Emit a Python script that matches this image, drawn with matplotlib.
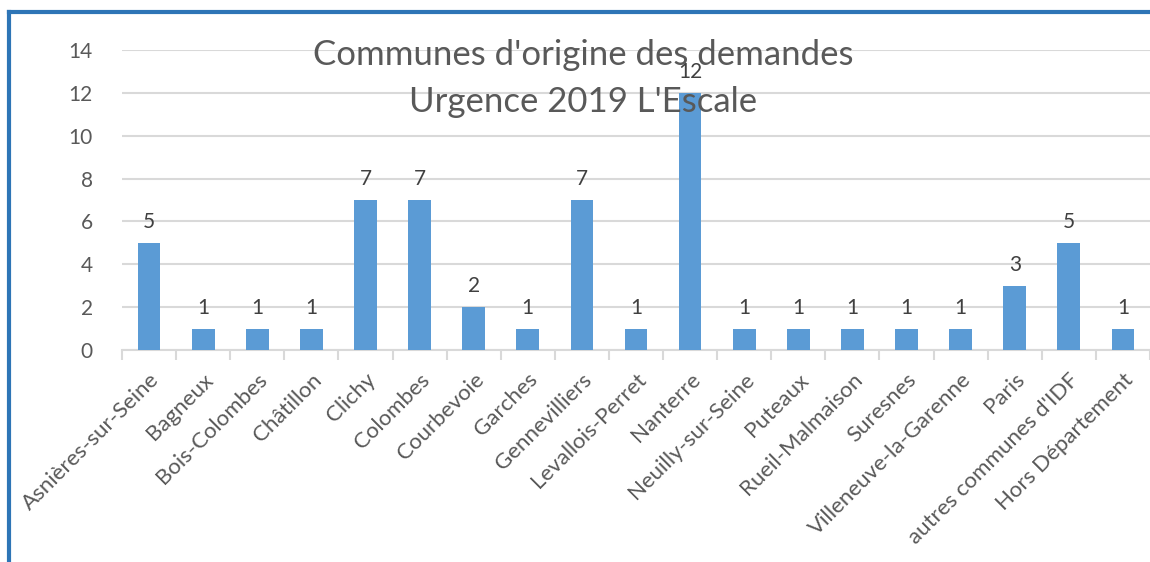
import matplotlib
matplotlib.use("Agg")
import matplotlib.pyplot as plt
from matplotlib.lines import Line2D
import numpy as np

communes = ["Asnières-sur-Seine", "Bagneux", "Bois-Colombes", "Châtillon", "Clichy",
            "Colombes", "Courbevoie", "Garches", "Gennevilliers", "Levallois-Perret",
            "Nanterre", "Neuilly-sur-Seine", "Puteaux", "Rueil-Malmaison", "Suresnes",
            "Villeneuve-la-Garenne", "Paris", "autres communes d'IDF", "Hors Département"]
demandes = [5, 1, 1, 1, 7, 7, 2, 1, 7, 1, 12, 1, 1, 1, 1, 1, 3, 5, 1]

plt.rcParams['font.family'] = ['Lato', 'DejaVu Sans']

fig = plt.figure(figsize=(11.5, 5.62), dpi=100)
ax = fig.add_axes([122/1150, 1 - 350/562, 1 - 122/1150, 300/562])

x = np.arange(len(communes))
bars = ax.bar(x, demandes, width=0.42, color="#5B9BD5", zorder=3)
for xi, v in zip(x, demandes):
    ax.text(xi, v + 0.5, str(v), ha="center", va="bottom", fontsize=15, color="#404040", zorder=4)

ax.set_xlim(-0.5, len(communes) - 0.5)
ax.set_ylim(0, 14)
ax.set_yticks(range(0, 15, 2))
ax.grid(axis="y", color="#D9D9D9", linewidth=1.5, zorder=0)
for s in ["top", "right", "left"]:
    ax.spines[s].set_visible(False)
ax.spines["bottom"].set_color("#D9D9D9")
ax.spines["bottom"].set_linewidth(1.5)
ax.tick_params(axis="y", length=0, labelsize=15, labelcolor="#595959", pad=21)
ax.set_xticks(x)
ax.set_xticklabels(communes, rotation=45, ha="right", rotation_mode="anchor",
                   fontsize=16, color="#595959")
ax.tick_params(axis="x", which="major", length=0, pad=14)
ax.set_xticks(np.arange(-0.5, len(communes), 1), minor=True)
ax.tick_params(axis="x", which="minor", length=7, color="#D9D9D9", width=1.5)

fig.text(583/1150, 1 - 55/562, "Communes d'origine des demandes",
         ha="center", va="center", fontsize=25, color="#595959")
fig.text(583/1150, 1 - 102/562, "Urgence 2019 L'Escale",
         ha="center", va="center", fontsize=25, color="#595959")

fig.add_artist(Line2D([9/1150, 9/1150], [0, 1 - 12/562], color="#2E75B6", linewidth=3))
fig.add_artist(Line2D([9/1150, 1], [1 - 12/562, 1 - 12/562], color="#2E75B6", linewidth=3))

fig.savefig("out.png", dpi=100)
